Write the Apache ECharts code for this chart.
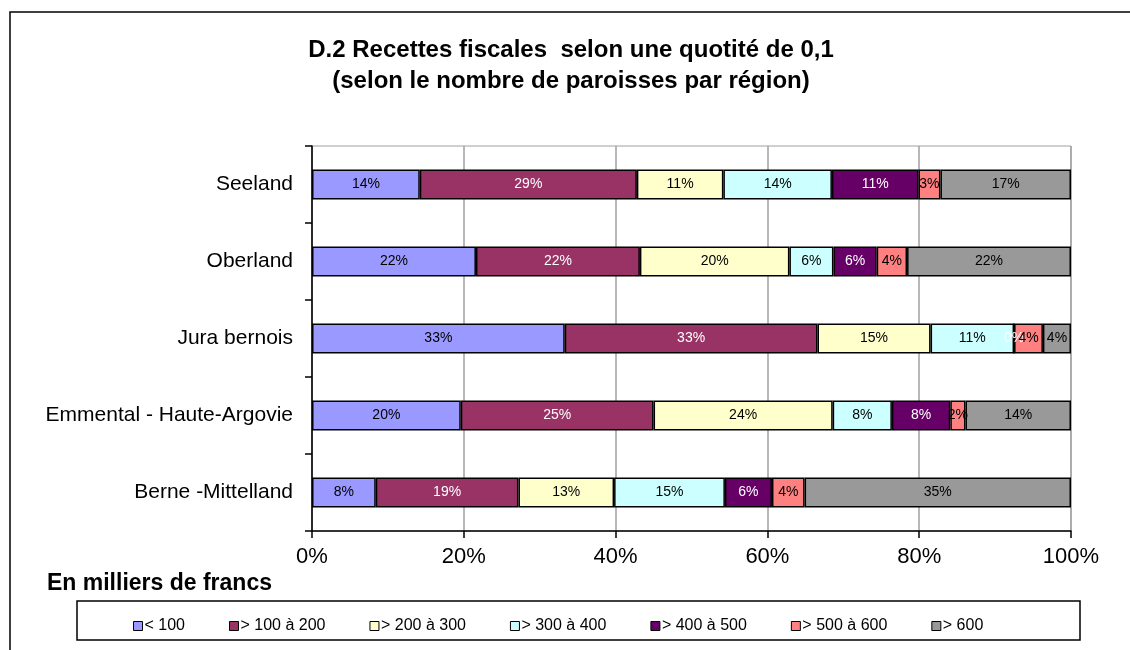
<!DOCTYPE html>
<html>
<head>
<meta charset="utf-8">
<script src="https://cdn.jsdelivr.net/npm/echarts@6/dist/echarts.min.js"></script>
<style>
  html, body { margin: 0; padding: 0; background: #fff; }
  #chart { width: 1130px; height: 650px; }
</style>
</head>
<body>
<div id="chart"></div>
<script>
// regions, bottom to top as drawn on the category axis
var regions = ['Berne -Mittelland', 'Emmental - Haute-Argovie', 'Jura bernois', 'Oberland', 'Seeland'];

var classes = ['< 100', '> 100 à 200', '> 200 à 300', '> 300 à 400', '> 400 à 500', '> 500 à 600', '> 600'];
var colors = ['#9999FF', '#993366', '#FFFFCC', '#CCFFFF', '#660066', '#FF8080', '#999999'];
var labelColors = ['#000', '#fff', '#000', '#000', '#fff', '#000', '#000'];

// share (%) of each class per region, same order as regions
var lt100 = [8.4, 19.6, 33.3, 21.6, 14.2];
var c100to200 = [18.8, 25.4, 33.3, 21.6, 28.6];
var c200to300 = [12.6, 23.6, 14.9, 19.7, 11.4];
var c300to400 = [14.6, 7.8, 11.0, 5.8, 14.3];
var c400to500 = [6.2, 7.7, 0, 5.7, 11.4];
var c500to600 = [4.3, 2.0, 3.8, 4.0, 2.9];
var gt600 = [35.1, 13.9, 3.7, 21.6, 17.2];

var values = [lt100, c100to200, c200to300, c300to400, c400to500, c500to600, gt600];

var font = '"Liberation Sans", Arial, sans-serif';

var series = classes.map(function (name, i) {
  return {
    name: name,
    type: 'bar',
    stack: 'total',
    barWidth: 30,
    itemStyle: {
      color: colors[i],
      borderColor: '#000',
      borderWidth: 1.5
    },
    label: {
      show: true,
      position: 'inside',
      fontFamily: font,
      fontSize: 14,
      color: labelColors[i],
      formatter: function (p) {
        return Math.round(p.value) + '%';
      }
    },
    data: values[i]
  };
});

var chart = echarts.init(document.getElementById('chart'));

var option = {
  backgroundColor: '#fff',
  animation: false,
  title: {
    text: 'D.2 Recettes fiscales  selon une quotité de 0,1\n(selon le nombre de paroisses par région)',
    left: 566,
    textAlign: 'center',
    top: 30,
    textStyle: {
      fontFamily: font,
      fontWeight: 'bold',
      fontSize: 24,
      lineHeight: 31,
      color: '#000'
    }
  },
  legend: {
    data: classes,
    left: 128,
    top: 613,
    itemGap: 44,
    itemWidth: 9,
    itemHeight: 9,
    icon: 'rect',
    itemStyle: { borderColor: '#000', borderWidth: 1 },
    textStyle: { fontFamily: font, fontSize: 16, color: '#000', padding: [0, 0, 0, -3] }
  },
  grid: {
    left: 312,
    right: 59,
    top: 146,
    bottom: 119,
    show: true,
    borderColor: '#a0a0a0',
    borderWidth: 1
  },
  xAxis: {
    type: 'value',
    min: 0,
    max: 100,
    interval: 20,
    axisLine: { show: true, lineStyle: { color: '#000', width: 1.5 } },
    axisTick: { show: true, length: 7, lineStyle: { color: '#000', width: 1.5 } },
    axisLabel: {
      formatter: '{value}%',
      fontFamily: font,
      fontSize: 22,
      color: '#000',
      margin: 15
    },
    splitLine: { show: true, lineStyle: { color: '#a0a0a0', width: 1.5 } }
  },
  yAxis: {
    type: 'category',
    data: regions,
    axisLine: { show: true, lineStyle: { color: '#000', width: 1.5 } },
    axisTick: { show: true, length: 7, inside: false, lineStyle: { color: '#000', width: 1.5 } },
    axisLabel: {
      fontFamily: font,
      fontSize: 21,
      color: '#000',
      margin: 19
    }
  },
  graphic: [
    {
      type: 'rect',
      shape: { x: 10, y: 12, width: 1200, height: 700 },
      style: { fill: 'none', stroke: '#000', lineWidth: 1.5 },
      silent: true
    },
    {
      type: 'text',
      left: 47,
      top: 572,
      style: {
        text: 'En milliers de francs',
        fontFamily: font,
        fontWeight: 'bold',
        fontSize: 23,
        fill: '#000'
      }
    },
    {
      type: 'rect',
      shape: { x: 77, y: 601, width: 1003, height: 39 },
      style: { fill: 'none', stroke: '#000', lineWidth: 1.5 },
      silent: true
    }
  ],
  series: series
};

chart.setOption(option);
</script>
</body>
</html>
